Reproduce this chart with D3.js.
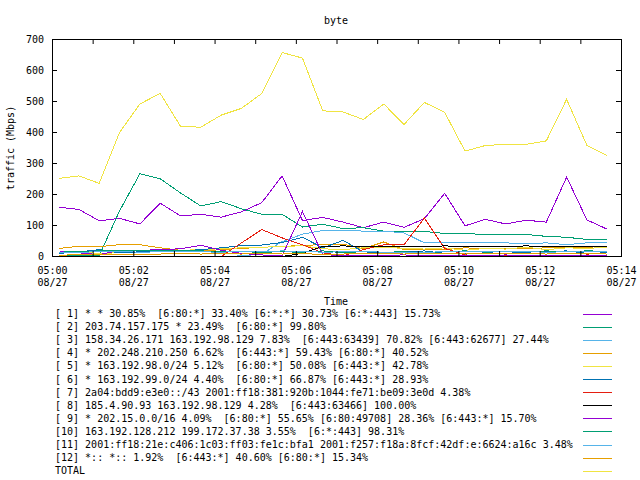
<!DOCTYPE html>
<html>
<head>
<meta charset="utf-8">
<script src="https://cdn.jsdelivr.net/npm/d3@7"></script>
<style>
  html, body { margin: 0; padding: 0; background: #fff; }
  svg { display: block; }
  text { font-family: "DejaVu Sans Mono", "Liberation Mono", monospace; font-size: 10px; fill: #000; }
</style>
</head>
<body>
<svg id="chart" width="640" height="480"></svg>
<script>
// ---------------- data ----------------
const title = "byte";
const xLabel = "Time";
const yLabel = "traffic (Mbps)";
const dateStr = "2023-08-27";
const times = ["05:00:09","05:00:39","05:01:09","05:01:39","05:02:09","05:02:39","05:03:09","05:03:39",
  "05:04:09","05:04:39","05:05:09","05:05:39","05:06:09","05:06:39","05:07:09","05:07:39",
  "05:08:09","05:08:39","05:09:09","05:09:39","05:10:09","05:10:39","05:11:09","05:11:39",
  "05:12:09","05:12:39","05:13:09","05:13:39"];
const yTicks = [0,100,200,300,400,500,600,700];

const seriesNames = [
  "[ 1] * * 30.85%  [6:80:*] 33.40% [6:*:*] 30.73% [6:*:443] 15.73%",
  "[ 2] 203.74.157.175 * 23.49%  [6:80:*] 99.80%",
  "[ 3] 158.34.26.171 163.192.98.129 7.83%  [6:443:63439] 70.82% [6:443:62677] 27.44%",
  "[ 4] * 202.248.210.250 6.62%  [6:443:*] 59.43% [6:80:*] 40.52%",
  "[ 5] * 163.192.98.0/24 5.12%  [6:80:*] 50.08% [6:443:*] 42.78%",
  "[ 6] * 163.192.99.0/24 4.40%  [6:80:*] 66.87% [6:443:*] 28.93%",
  "[ 7] 2a04:bdd9:e3e0::/43 2001:ff18:381:920b:1044:fe71:be09:3e0d 4.38%",
  "[ 8] 185.4.90.93 163.192.98.129 4.28%  [6:443:63466] 100.00%",
  "[ 9] * 202.15.0.0/16 4.09%  [6:80:*] 55.65% [6:80:49708] 28.36% [6:443:*] 15.70%",
  "[10] 163.192.128.212 199.172.37.38 3.55%  [6:*:443] 98.31%",
  "[11] 2001:ff18:21e:c406:1c03:ff03:fe1c:bfa1 2001:f257:f18a:8fcf:42df:e:6624:a16c 3.48%",
  "[12] *:: *:: 1.92%  [6:443:*] 40.60% [6:80:*] 15.34%",
  "TOTAL"
];

const s1  = [159,152,115,123,105,172,131,136,127,144,174,260,116,126,111,93,111,94,122,204,99,120,105,117,111,256,118,88];
const s2  = [3,3,3,147,267,251,205,163,177,154,136,136,95,104,90,93,82,81,81,74,74,71,71,71,65,62,55,54];
const s3  = [0,0,0,0,0,0,0,0,0,2,8,48,72,84,84,82,82,76,44,44,44,44,44,41,44,38,44,44];
const s4  = [26,33,32,38,38,28,20,18,22,26,30,32,36,38,40,25,47,22,24,22,28,25,27,25,28,30,30,32];
const s5  = [12,14,10,12,15,18,20,22,25,28,30,32,35,25,22,28,30,26,24,28,20,26,24,30,22,28,26,30];
const s6  = [10,15,22,12,15,16,18,22,28,35,37,45,62,28,52,15,12,14,18,10,8,12,10,14,16,18,10,12];
const s7  = [0,0,0,0,0,0,0,0,0,44,87,60,38,12,2,22,38,38,124,26,5,3,2,4,3,2,5,3];
const s8  = [0,0,0,0,0,0,0,0,0,0,0,0,10,33,34,33,33,32,33,34,33,33,33,34,33,33,33,33];
const s9  = [18,12,6,20,20,22,25,36,20,10,5,2,145,6,3,2,4,5,3,2,4,3,5,2,3,2,4,3];
const s10 = [14,16,18,20,18,18,18,18,16,15,14,15,14,18,12,16,14,15,12,16,18,14,16,15,18,16,18,17];
const s11 = [12,14,15,16,14,15,16,15,14,16,15,18,16,14,15,16,14,13,14,15,16,15,17,16,14,15,16,17];
const s12 = [4,6,5,6,8,8,10,8,9,8,10,8,9,7,8,10,9,8,9,10,8,9,10,9,8,10,9,8];
const sTotal = [252,260,236,400,492,526,420,417,456,478,526,658,640,470,466,442,492,426,497,465,340,358,362,362,373,507,358,326];

const seriesValues = [s1,s2,s3,s4,s5,s6,s7,s8,s9,s10,s11,s12,sTotal];
const palette = ["#9400d3","#009e73","#56b4e9","#e69f00","#f0e442","#0072b2","#e51e10","#000000"];

// ---------------- layout ----------------
const L = 52, R = 621, T = 39, B = 256;
const svg = d3.select("#chart");
const parse = d3.timeParse("%Y-%m-%d %H:%M:%S");
const t0 = parse(dateStr + " 05:00:00");
const t1 = parse(dateStr + " 05:14:00");
const x = d3.scaleTime().domain([t0, t1]).range([L, R]);
const y = d3.scaleLinear().domain([0, 700]).range([B, T]);
const dates = times.map(t => parse(dateStr + " " + t));

// title
svg.append("text").attr("x", 336).attr("y", 24).attr("text-anchor", "middle").text(title);

// series lines
const line = d3.line().x(d => x(d[0])).y(d => y(d[1]));
const gLines = svg.append("g").attr("transform", "translate(0.5,0.5)");
seriesValues.forEach((vals, i) => {
  gLines.append("path")
    .datum(vals.map((v, k) => [dates[k], v]))
    .attr("fill", "none")
    .attr("stroke", palette[i % 8])
    .attr("stroke-width", 1)
    .attr("shape-rendering", "crispEdges")
    .attr("d", line);
});

// axes
const fmtHM = d3.timeFormat("%H:%M");
const fmtMD = d3.timeFormat("%m/%d");
const minuteTicks = d3.timeMinute.every(1);

const gx = svg.append("g").attr("transform", `translate(0,${B})`)
  .call(d3.axisBottom(x).ticks(minuteTicks).tickSizeInner(-5).tickSizeOuter(0).tickPadding(0)
    .tickFormat(d => d.getMinutes() % 2 ? "" : fmtHM(d)));
gx.select(".domain").remove();
gx.selectAll(".tick line").attr("stroke", "#000");
gx.selectAll(".tick text").each(function(d) {
  const t = d3.select(this);
  if (d.getMinutes() % 2) return;
  t.text(null).attr("y", 0).attr("dy", null);
  t.append("tspan").attr("x", 0).attr("y", 18).text(fmtHM(d));
  t.append("tspan").attr("x", 0).attr("y", 30).text(fmtMD(d));
});
gx.attr("font-family", null).attr("font-size", null);

const gxTop = svg.append("g").attr("transform", `translate(0,${T})`)
  .call(d3.axisTop(x).ticks(minuteTicks).tickSizeInner(-5).tickSizeOuter(0).tickFormat(""));
gxTop.select(".domain").remove();
gxTop.selectAll(".tick line").attr("stroke", "#000");

const gy = svg.append("g").attr("transform", `translate(${L},0)`)
  .call(d3.axisLeft(y).tickValues(yTicks).tickSizeInner(-5).tickSizeOuter(0).tickPadding(8)
    .tickFormat(d3.format("d")));
gy.select(".domain").remove();
gy.selectAll(".tick line").attr("stroke", "#000");
gy.selectAll(".tick text").attr("dy", "0.35em");
gy.attr("font-family", null).attr("font-size", null);

const gyR = svg.append("g").attr("transform", `translate(${R},0)`)
  .call(d3.axisRight(y).tickValues(yTicks).tickSizeInner(-5).tickSizeOuter(0).tickFormat(""));
gyR.select(".domain").remove();
gyR.selectAll(".tick line").attr("stroke", "#000");

// frame
svg.append("rect").attr("x", L + 0.5).attr("y", T + 0.5)
  .attr("width", R - L).attr("height", B - T)
  .attr("fill", "none").attr("stroke", "#000").attr("stroke-width", 1)
  .attr("shape-rendering", "crispEdges");

// axis titles
svg.append("text").attr("x", 336).attr("y", 305).attr("text-anchor", "middle").text(xLabel);
svg.append("text").attr("transform", "translate(14,148) rotate(-90)")
  .attr("text-anchor", "middle").text(yLabel);

// legend
const legY0 = 313.5, legDY = 13.1;
const leg = svg.append("g");
seriesNames.forEach((name, i) => {
  const cy = legY0 + i * legDY;
  leg.append("text").attr("x", 55).attr("y", cy + 3.5).attr("xml:space", "preserve")
    .style("white-space", "pre").text(name);
  leg.append("line").attr("x1", 583).attr("x2", 612)
    .attr("y1", Math.round(cy) + 0.5).attr("y2", Math.round(cy) + 0.5)
    .attr("stroke", palette[i % 8]).attr("stroke-width", 1)
    .attr("shape-rendering", "crispEdges");
});
</script>
</body>
</html>
